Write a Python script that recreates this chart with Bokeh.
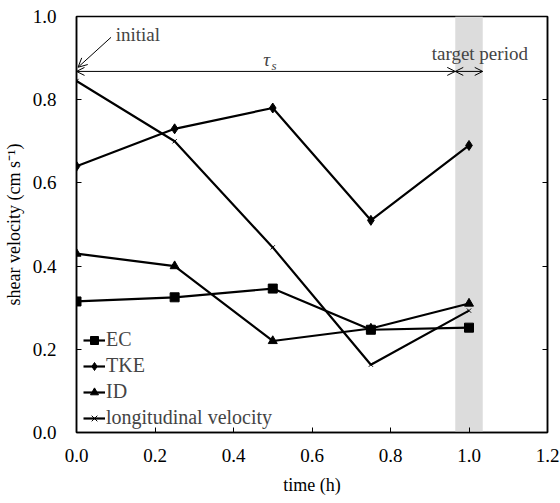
from bokeh.plotting import figure
from bokeh.models import (LinearAxis, BoxAnnotation, Arrow, OpenHead, Label,
                          FixedTicker, Legend, PrintfTickFormatter)
from bokeh.embed import file_html
from bokeh.resources import INLINE

time_h = [0.0, 0.25, 0.5, 0.75, 1.0]
ec = [0.315, 0.325, 0.346, 0.247, 0.252]
tke = [0.640, 0.730, 0.780, 0.510, 0.690]
id_ = [0.430, 0.400, 0.220, 0.250, 0.310]
longi = [0.845, 0.700, 0.445, 0.163, 0.293]
x_ticks = [0.0, 0.2, 0.4, 0.6, 0.8, 1.0, 1.2]
y_ticks = [0.0, 0.2, 0.4, 0.6, 0.8, 1.0]
target_start, target_end = 0.965, 1.035

FONT = "Liberation Serif"

p = figure(width=560, height=503, output_backend="svg", toolbar_location=None,
           x_range=(0, 1.2), y_range=(0, 1.0),
           min_border_left=73, min_border_right=13, min_border_top=16,
           min_border_bottom=71)
p.xgrid.visible = False
p.ygrid.visible = False
p.outline_line_color = "black"
p.outline_line_width = 1.5
p.background_fill_color = "white"
p.border_fill_color = "white"

for ax in (p.xaxis[0], p.yaxis[0]):
    ax.major_tick_in = 5
    ax.major_tick_out = 0
    ax.minor_tick_line_color = None
    ax.axis_line_color = "black"
    ax.axis_line_width = 1.5
    ax.major_tick_line_color = "black"
    ax.major_label_text_font = FONT
    ax.major_label_text_font_size = "19px"
    ax.major_label_text_color = "black"
    ax.axis_label_text_font = FONT
    ax.axis_label_text_font_size = "18px"
    ax.axis_label_text_font_style = "normal"
    ax.axis_label_text_color = "black"

p.xaxis[0].ticker = FixedTicker(ticks=x_ticks)
p.yaxis[0].ticker = FixedTicker(ticks=y_ticks)
p.xaxis[0].formatter = PrintfTickFormatter(format="%.1f")
p.yaxis[0].formatter = PrintfTickFormatter(format="%.1f")
p.xaxis[0].axis_label = "time (h)"
p.yaxis[0].axis_label = "shear velocity (cm s\u207b\u00b9)"
p.xaxis[0].major_label_standoff = 16
p.yaxis[0].major_label_standoff = 20
p.xaxis[0].axis_label_standoff = 10
p.yaxis[0].axis_label_standoff = 6

right = LinearAxis(ticker=FixedTicker(ticks=y_ticks), major_tick_in=5,
                   major_tick_out=0, minor_tick_line_color=None,
                   major_label_overrides={t: "" for t in y_ticks},
                   axis_line_width=1.5, axis_line_color="black",
                   major_tick_line_color="black")
p.add_layout(right, "right")

band = BoxAnnotation(left=target_start, right=target_end, fill_color="#dcdcdc",
                     fill_alpha=1.0, line_color=None, level="underlay")
p.add_layout(band)

lw = 2.2
r1 = p.line(time_h, ec, line_color="black", line_width=lw)
s1 = p.scatter(time_h, ec, marker="square", size=9, color="black")
r2 = p.line(time_h, tke, line_color="black", line_width=lw)
s2 = p.scatter(time_h, tke, marker="diamond", size=10, color="black")
r3 = p.line(time_h, id_, line_color="black", line_width=lw)
s3 = p.scatter(time_h, id_, marker="triangle", size=9, color="black")
r4 = p.line(time_h, longi, line_color="black", line_width=lw)
s4 = p.scatter(time_h, longi, marker="x", size=6, color="black", line_width=1)

legend = Legend(items=[("EC", [r1, s1]), ("TKE", [r2, s2]), ("ID", [r3, s3]),
                       ("longitudinal velocity", [r4, s4])],
                location=(7, 3), background_fill_alpha=0, border_line_color=None,
                label_text_font=FONT, label_text_font_size="20px",
                glyph_width=22, glyph_height=20, label_standoff=1,
                spacing=3, padding=0, margin=0, label_height=20)
p.add_layout(legend)

head = dict(size=8, line_width=1, line_color="black")
p.add_layout(Arrow(start=OpenHead(**head), end=OpenHead(**head),
                   x_start=0.0, y_start=0.868, x_end=target_start, y_end=0.868,
                   line_width=1, line_color="black"))
p.add_layout(Arrow(start=OpenHead(**head), end=OpenHead(**head),
                   x_start=target_start, y_start=0.868, x_end=target_end, y_end=0.868,
                   line_width=1, line_color="black"))
p.add_layout(Arrow(end=OpenHead(size=9, line_width=1, line_color="black"),
                   x_start=0.088, y_start=0.95, x_end=0.004, y_end=0.878,
                   line_width=1, line_color="black"))

p.add_layout(Label(x=0.1, y=0.957, text="initial", text_font=FONT,
                   text_font_size="19px", text_baseline="middle"))
p.add_layout(Label(x=0.905, y=0.911, text="target period", text_font=FONT,
                   text_font_size="19px", text_baseline="middle"))
p.add_layout(Label(x=0.476, y=0.896, text="\u03c4", text_font=FONT,
                   text_font_size="19px", text_font_style="italic",
                   text_baseline="middle"))
p.add_layout(Label(x=0.497, y=0.883, text="s", text_font=FONT,
                   text_font_size="13px", text_font_style="italic",
                   text_baseline="middle"))

open("out.html", "w").write(file_html(p, INLINE))
